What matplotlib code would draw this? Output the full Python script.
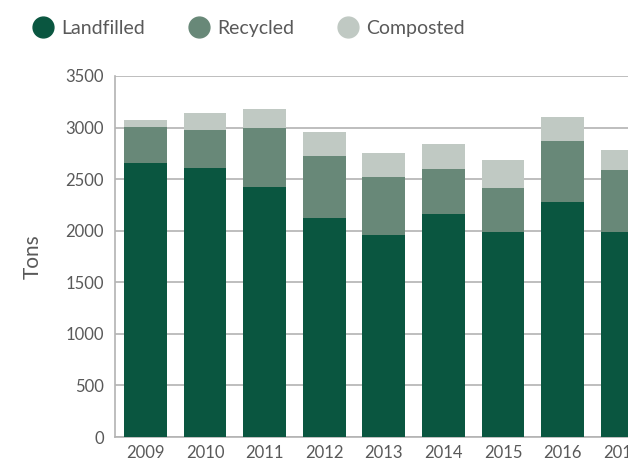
import matplotlib
matplotlib.use("Agg")
import matplotlib.pyplot as plt
import numpy as np
from matplotlib.lines import Line2D

years = ["2009", "2010", "2011", "2012", "2013", "2014", "2015", "2016", "2017"]
landfilled = [2657, 2612, 2424, 2126, 1958, 2162, 1988, 2278, 1988]
recycled = [348, 368, 572, 598, 563, 436, 426, 592, 601]
composted = [68, 165, 184, 233, 232, 242, 272, 235, 194]

c_land = "#0a5640"
c_rec = "#688878"
c_comp = "#c0c9c3"
txt = "#595959"

plt.rcParams['font.family'] = ['Lato', 'DejaVu Sans']

fig = plt.figure(figsize=(6.28, 4.63), dpi=100)
ax = fig.add_axes([115/628, 26/463, 537/628, 361/463])

x = np.arange(len(years))
w = 0.72
land = np.array(landfilled)
rec = np.array(recycled)
comp = np.array(composted)
ax.bar(x, land, w, color=c_land, zorder=3)
ax.bar(x, rec, w, bottom=land, color=c_rec, zorder=3)
ax.bar(x, comp, w, bottom=land + rec, color=c_comp, zorder=3)

ax.set_xlim(-0.51, len(years) - 0.5)
ax.set_ylim(0, 3500)
ax.set_yticks(np.arange(0, 3501, 500))
ax.set_xticks(x)
ax.set_xticklabels(years)
ax.yaxis.grid(True, color="#b3b3b3", linewidth=1.2, zorder=0)
ax.set_axisbelow(True)
for s in ["top", "right"]:
    ax.spines[s].set_visible(False)
for s in ["left", "bottom"]:
    ax.spines[s].set_color("#b3b3b3")
    ax.spines[s].set_linewidth(1.2)
ax.tick_params(axis="both", length=0, labelsize=12, labelcolor=txt)
ax.tick_params(axis="y", pad=8)
ax.tick_params(axis="x", pad=6)
ax.set_ylabel("Tons", fontsize=15, color=txt, labelpad=16)

handles = [Line2D([], [], marker="o", linestyle="", markersize=15, color=c) for c in (c_land, c_rec, c_comp)]
fig.legend(handles, ["Landfilled", "Recycled", "Composted"], loc="upper left",
           bbox_to_anchor=(0.025, 0.995), ncol=3, frameon=False, fontsize=14,
           labelcolor=txt, handletextpad=0.45, columnspacing=2.25, handlelength=1.0)

fig.savefig("out.png", dpi=100)
